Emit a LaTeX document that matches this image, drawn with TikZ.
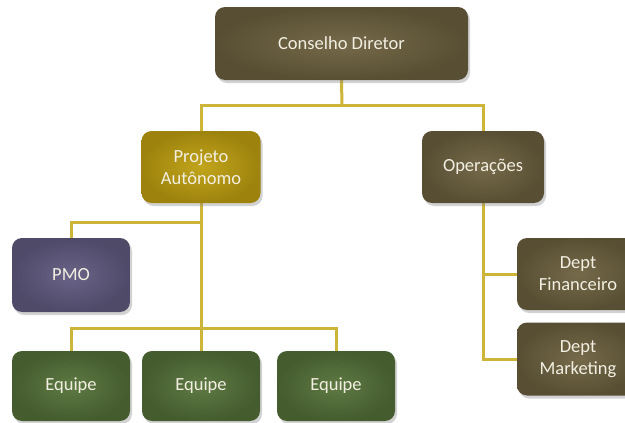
\documentclass[tikz,border=0pt]{standalone}
\usepackage{fontspec}
\setmainfont{Carlito}
\usetikzlibrary{shadows,backgrounds}
\definecolor{olivebox}{HTML}{6E6240}
\definecolor{goldbox}{HTML}{BFA010}
\definecolor{purplebox}{HTML}{625C82}
\definecolor{greenbox}{HTML}{56733A}
\definecolor{linecol}{HTML}{CDB53A}
\definecolor{txtcol}{HTML}{F2EFE2}
\tikzset{
  orgbox/.style={rounded corners=10pt, draw=none, align=center, text=txtcol,
    font=\fontsize{18.5}{22}\selectfont,
    drop shadow={shadow xshift=2pt, shadow yshift=-3pt, opacity=0.35}},
  olive/.style={orgbox, inner color=olivebox!95!white, outer color=olivebox!80!black},
  gold/.style={orgbox, inner color=goldbox!95!white, outer color=goldbox!82!black},
  purp/.style={orgbox, inner color=purplebox!95!white, outer color=purplebox!80!black},
  grn/.style={orgbox, inner color=greenbox!95!white, outer color=greenbox!80!black},
  conn/.style={draw=linecol, line width=3pt}
}
\begin{document}
\begin{tikzpicture}[x=1pt,y=-1pt]
\useasboundingbox (0,0) rectangle (625,423);
\node[olive, minimum width=253pt, minimum height=73pt] (cd) at (341.5,43.5) {Conselho Diretor};
\node[gold, minimum width=119pt, minimum height=72pt] (pa) at (201,167) {Projeto\\Autônomo};
\node[olive, minimum width=122pt, minimum height=72pt] (op) at (483,167) {Operações};
\node[purp, minimum width=118pt, minimum height=74pt] (pmo) at (71,275) {PMO};
\node[grn, minimum width=118pt, minimum height=70pt] (e1) at (71,386) {Equipe};
\node[grn, minimum width=118pt, minimum height=70pt] (e2) at (201,386) {Equipe};
\node[grn, minimum width=118pt, minimum height=70pt] (e3) at (336,386) {Equipe};
\node[olive, minimum width=122pt, minimum height=72pt, text width=100pt] (df) at (578,274) {Dept\\Financeiro};
\node[olive, minimum width=122pt, minimum height=73pt, text width=100pt] (dm) at (578,359) {Dept\\Marketing};
\coordinate (j1) at (342,105);
\coordinate (j2) at (201,328);
\coordinate (j3) at (201,222);
\begin{pgfonlayer}{background}
\fill[white] (0,0) rectangle (625,423);
\draw[conn] (cd.south) -- (j1);
\draw[conn] (pa.north) |- (j1) -| (op.north);
\draw[conn] (pa.south) -- (e2.north);
\draw[conn] (e1.north) |- (j2) -| (e3.north);
\draw[conn] (pmo.north) |- (j3);
\draw[conn] (op.south) |- (dm.west);
\draw[conn] (op.south |- df.west) -- (df.west);
\end{pgfonlayer}
\end{tikzpicture}
\end{document}
